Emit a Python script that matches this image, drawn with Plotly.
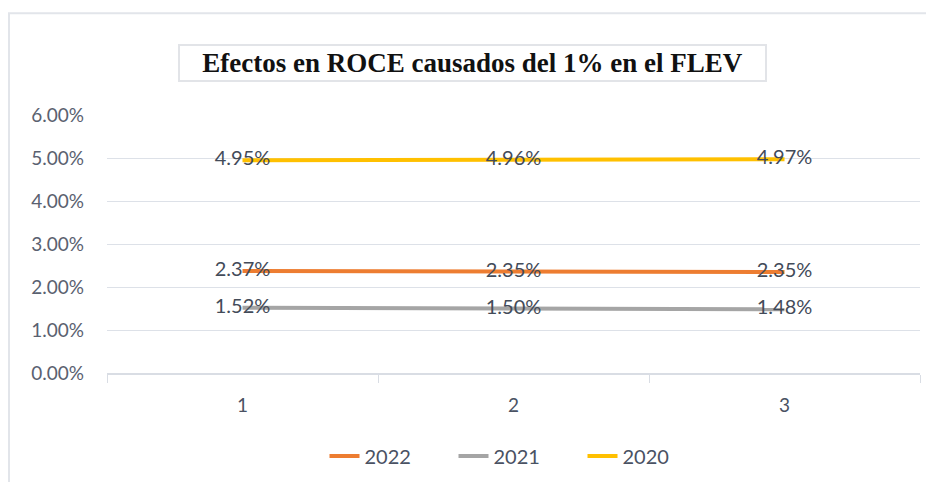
import plotly.graph_objects as go

categories = ["1", "2", "3"]
series_names = ["2022", "2021", "2020"]
values_2022 = [0.0237, 0.0235, 0.0235]
values_2021 = [0.0152, 0.0150, 0.0148]
values_2020 = [0.0495, 0.0496, 0.0497]
colors = ["#ED7D31", "#A5A5A5", "#FFC000"]

W, H = 918, 474
L, R, T, B = 99, 6, 107, 106
pw, ph = W - L - R, H - T - B


def px_x(x):
    return (x - L) / pw


def px_y(y):
    return (H - B - y) / ph


fig = go.Figure()
for name, vals, col in zip(series_names, [values_2022, values_2021, values_2020], colors):
    fig.add_trace(go.Scatter(
        x=categories, y=vals, name=name, mode="lines+text",
        line=dict(color=col, width=4),
        text=[f"{v * 100:.2f}%" for v in vals],
        textposition="middle center",
        textfont=dict(family="Lato, Liberation Sans", size=20, color="#434b59"),
    ))

fig.update_layout(
    width=W, height=H,
    margin=dict(l=L, r=R, t=T, b=B),
    paper_bgcolor="white", plot_bgcolor="white",
    showlegend=True,
    legend=dict(orientation="h", x=px_x(510), xanchor="center", y=px_y(452), yanchor="middle",
                font=dict(family="Lato, Liberation Sans", size=20, color="#4a5263"),
                entrywidth=84, traceorder="normal"),
    font=dict(family="Lato, Liberation Sans"),
)
fig.update_xaxes(
    type="category", range=[-0.5, 2.5], showgrid=False,
    showline=True, linecolor="#d9dde4", linewidth=1.5,
    ticks="outside", tickson="boundaries", ticklen=8, tickcolor="#d9dde4",
    tickfont=dict(size=19, color="#4a5263"), ticklabelstandoff=14,
)
fig.update_yaxes(
    range=[0, 0.06], dtick=0.01, tickformat=".2%",
    showgrid=True, gridcolor="#dde1e8", gridwidth=1.2,
    zeroline=False, showline=False,
    tickfont=dict(size=19, color="#5a6170"), ticklabelstandoff=22,
)

# title box
fig.add_annotation(
    text="<b>Efectos en ROCE causados del 1% en el FLEV</b>",
    xref="paper", yref="paper", x=px_x(464), y=px_y(54),
    xanchor="center", yanchor="middle", showarrow=False,
    font=dict(family="Liberation Serif", size=27, color="#111111"),
    bordercolor="#e2e4e8", borderwidth=2, borderpad=2, bgcolor="white",
    width=581,
)

# outer chart border (only top and left edges visible)
fig.add_shape(type="rect", xref="paper", yref="paper",
              x0=px_x(1), x1=px_x(960), y0=px_y(520), y1=px_y(4),
              line=dict(color="#e2e5ea", width=2), layer="below")

fig.write_html("out.html")
